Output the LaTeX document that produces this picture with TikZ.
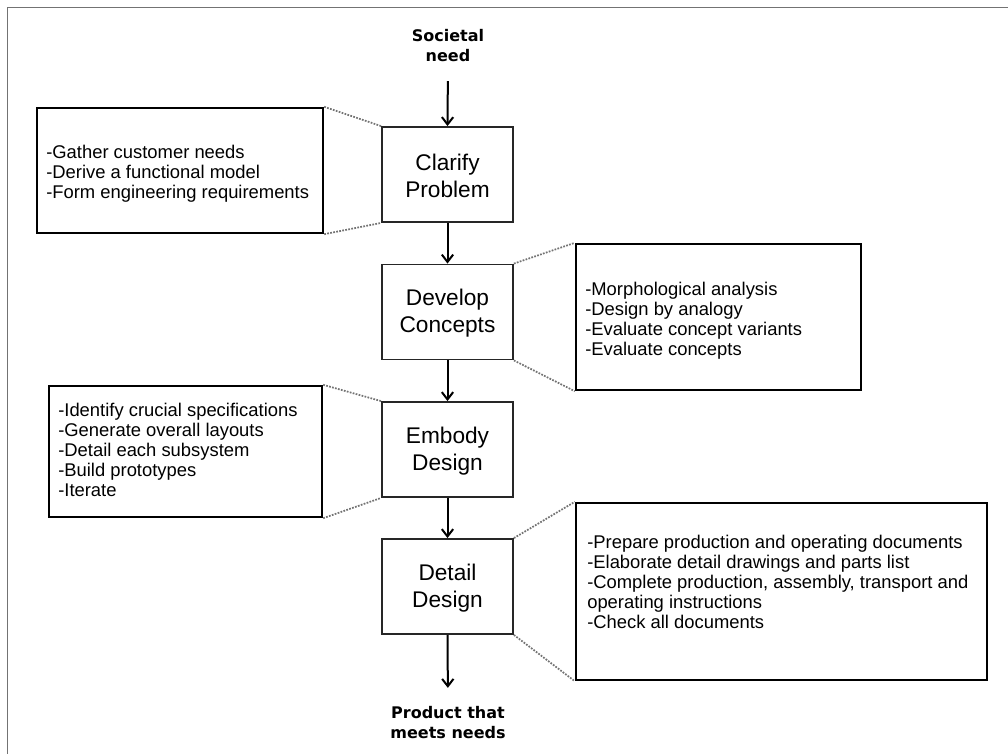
\documentclass[tikz,border=0pt]{standalone}
\usepackage{fontspec}
\setmainfont{Liberation Sans}
\newfontfamily\labelfont{DejaVu Sans}
\usetikzlibrary{arrows.meta,fit}
\begin{document}
\begin{tikzpicture}[x=0.75pt,y=-0.75pt,
  frame/.style={draw=black!55, line width=1.3pt},
  stagebox/.style={draw=black!85, line width=1.4pt, inner sep=0pt},
  stagetext/.style={inner sep=0pt, align=center, yshift=-1pt,
    font=\fontsize{17pt}{20pt}\selectfont},
  notebox/.style={draw=black, line width=1.8pt, inner sep=0pt},
  notetext/.style={inner sep=0pt, align=left, anchor=north west,
    font=\fontsize{13.8pt}{15pt}\selectfont},
  endlabel/.style={inner sep=0pt, align=center,
    font=\labelfont\bfseries\fontsize{12pt}{15pt}\selectfont},
  flow/.style={draw=black, line width=1.5pt, -{Straight Barb[length=5.5pt,width=8.5pt]}},
  link/.style={draw=black!55, line width=1.3pt, densely dotted},
]
\useasboundingbox (0,0) rectangle (1008,754);
\fill[white] (0,0) rectangle (1008,754);
\draw[frame] (1008,7.5) -- (7.5,7.5) -- (7.5,754);

% process stages
\node[stagebox, fit={(382,127) (513,222)}] (clarify) {};
\node[stagebox, fit={(382,264.5) (513,359.5)}] (develop) {};
\node[stagebox, fit={(382,402) (513,497)}] (embody) {};
\node[stagebox, fit={(382,539) (513,634)}] (detail) {};
\node[stagetext] (clarifyT) at (clarify.center) {Clarify\\Problem};
\node[stagetext] (developT) at (develop.center) {Develop\\Concepts};
\node[stagetext] (embodyT) at (embody.center) {Embody\\Design};
\node[stagetext] (detailT) at (detail.center) {Detail\\Design};

% start and end labels
\node[endlabel] (need) at (448,46) {Societal\\need};
\node[endlabel] (product) at (448,723) {Product that\\meets needs};

% stage flow
\draw[flow, shorten <=14pt] (need.south) -- (clarify.north);
\draw[flow] (clarify) -- (develop);
\draw[flow] (develop) -- (embody);
\draw[flow] (embody) -- (detail);
\draw[flow, shorten >=14pt] (detail.south) -- (product.north);

% activity notes
\node[notebox, fit={(37,108) (323,233)}] (n1) {};
\node[notetext] (t1) at (46,145) {-Gather customer needs\\-Derive a functional model\\-Form engineering requirements};

\node[notebox, fit={(576,244) (861,390)}] (n2) {};
\node[notetext] (t2) at (585,282) {-Morphological analysis\\-Design by analogy\\-Evaluate concept variants\\-Evaluate concepts};

\node[notebox, fit={(49,386) (322,517)}] (n3) {};
\node[notetext] (t3) at (58,403) {-Identify crucial specifications\\-Generate overall layouts\\-Detail each subsystem\\-Build prototypes\\-Iterate};

\node[notebox, fit={(576,503) (987,680)}] (n4) {};
\node[notetext] (t4) at (587,535) {-Prepare production and operating documents\\-Elaborate detail drawings and parts list\\-Complete production, assembly, transport and\\operating instructions\\-Check all documents};

% dotted links from notes to stages
\draw[link] (n1.north east) -- (clarify.north west);
\draw[link] (n1.south east) -- (clarify.south west);
\draw[link] (develop.north east) -- (n2.north west);
\draw[link] (develop.south east) -- (n2.south west);
\draw[link] (n3.north east) -- (embody.north west);
\draw[link] (n3.south east) -- (embody.south west);
\draw[link] (detail.north east) -- (n4.north west);
\draw[link] (detail.south east) -- (n4.south west);
\end{tikzpicture}
\end{document}
